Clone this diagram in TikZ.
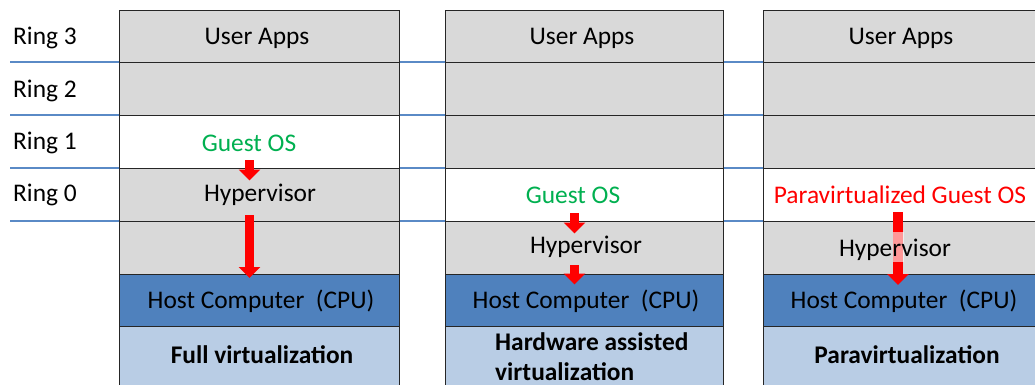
\documentclass[tikz,border=0pt]{standalone}
\usepackage{fontspec}
\setmainfont{Carlito}
\usetikzlibrary{arrows.meta}
\definecolor{cellgray}{HTML}{D9D9D9}
\definecolor{hostblue}{HTML}{4F81BD}
\definecolor{lightblue}{HTML}{B9CDE5}
\definecolor{ringline}{HTML}{5A8AC6}
\definecolor{guestgreen}{HTML}{00B050}
\begin{document}
\begin{tikzpicture}[x=1pt,y=-1pt,
  cell/.style={draw=black!85, line width=0.9pt, inner sep=0pt, outer sep=0pt, minimum height=#1},
  cell/.default=53,
  c1/.style={minimum width=280},
  c2/.style={minimum width=278},
  c3/.style={minimum width=282},
  txt/.style={font=\fontsize{25.4}{28}\selectfont, inner sep=0pt},
  btxt/.style={font=\fontsize{25.4}{30}\selectfont\bfseries, inner sep=0pt},
  ringlbl/.style={txt, anchor=west},
  redarrow/.style={draw=red, line width=9.5pt, -{Triangle[width=21pt,length=11pt]}},
]
\clip (0,0) rectangle (1035,385);
\useasboundingbox (0,0) rectangle (1035,385);
\fill[white] (0,0) rectangle (1035,385);

% ring separator lines
\foreach \yy in {62,115,168,221}
  \draw[ringline, line width=1.6pt] (10,\yy) -- (1035,\yy);

% ring labels
\node[ringlbl] (r3) at (13,38) {Ring 3};
\node[ringlbl] (r2) at (13,91) {Ring 2};
\node[ringlbl] (r1) at (13,143) {Ring 1};
\node[ringlbl] (r0) at (13,195) {Ring 0};

% ---- column 1: full virtualization
\node[cell=52, c1, fill=cellgray] (a3) at (259,36) {};
\node[cell, c1, fill=cellgray] (a2) at (259,88.5) {};
\node[cell, c1, fill=white] (a1) at (259,141.5) {};
\node[cell, c1, fill=cellgray] (a0) at (259,194.5) {};
\node[cell, c1, fill=cellgray] (am) at (259,247.5) {};
\node[cell=52, c1, fill=hostblue] (ah) at (259,300) {};
\node[cell=66, c1, fill=lightblue] (ab) at (259,359) {};

% ---- column 2: hardware assisted
\node[cell=52, c2, fill=cellgray] (b3) at (584,36) {};
\node[cell, c2, fill=cellgray] (b2) at (584,88.5) {};
\node[cell, c2, fill=cellgray] (b1) at (584,141.5) {};
\node[cell, c2, fill=white] (b0) at (584,194.5) {};
\node[cell, c2, fill=cellgray] (bm) at (584,247.5) {};
\node[cell=52, c2, fill=hostblue] (bh) at (584,300) {};
\node[cell=66, c2, fill=lightblue] (bb) at (584,359) {};

% ---- column 3: paravirtualization
\node[cell=52, c3, fill=cellgray] (p3) at (904,36) {};
\node[cell, c3, fill=cellgray] (p2) at (904,88.5) {};
\node[cell, c3, fill=cellgray] (p1) at (904,141.5) {};
\node[cell, c3, fill=white] (p0) at (904,194.5) {};
\node[cell, c3, fill=cellgray] (pm) at (904,247.5) {};
\node[cell=52, c3, fill=hostblue] (ph) at (904,300) {};
\node[cell=66, c3, fill=lightblue] (pb) at (904,359) {};

% ---- texts column 1
\node[txt] (aua) at (257,38) {User Apps};
\node[txt, text=guestgreen] (ag) at (249,143) {Guest OS};
\node[txt] (ahv) at (260,195) {Hypervisor};
\node[txt] (ahc) at (261,301) {Host Computer\hspace{0.45em}(CPU)};
\node[btxt] (abt) at (262,355) {Full virtualization};

% ---- texts column 2
\node[txt] (bua) at (582,38) {User Apps};
\node[txt, text=guestgreen] (bg) at (573,195) {Guest OS};
\node[txt] (bhv) at (586,247) {Hypervisor};
\node[txt] (bhc) at (586,301) {Host Computer\hspace{0.45em}(CPU)};
\node[btxt, align=left, anchor=north west] (bbt) at (495,332) {Hardware assisted\\virtualization};

% ---- texts column 3
\node[txt] (pua) at (901,38) {User Apps};
\node[txt, text=red] (pg) at (900,195) {Paravirtualized Guest OS};
\node[txt] (phc) at (904,301) {Host Computer\hspace{0.45em}(CPU)};
\node[btxt] (pbt) at (907,355) {Paravirtualization};

% ---- arrows
\coordinate (a1s) at (249.5,160);
\coordinate (a1e) at (249.5,180.5);
\coordinate (a2s) at (249.5,215);
\coordinate (a2e) at (249.5,278);
\draw[redarrow] (a1s) -- (a1e);
\draw[redarrow] (a2s) -- (a2e);

\coordinate (b1s) at (574.5,213);
\coordinate (b1e) at (574.5,233.5);
\coordinate (b2s) at (574.5,265);
\coordinate (b2e) at (574.5,284.5);
\draw[redarrow] (b1s) -- (b1e);
\draw[redarrow] (b2s) -- (b2e);

\coordinate (p1s) at (898,212);
\coordinate (p1e) at (898,285);
\draw[redarrow] (p1s) -- (p1e);
\fill[white, opacity=0.6] (892.5,232) rectangle (903.5,262);
\node[txt] (phv) at (895,250) {Hypervisor};
\end{tikzpicture}
\end{document}
